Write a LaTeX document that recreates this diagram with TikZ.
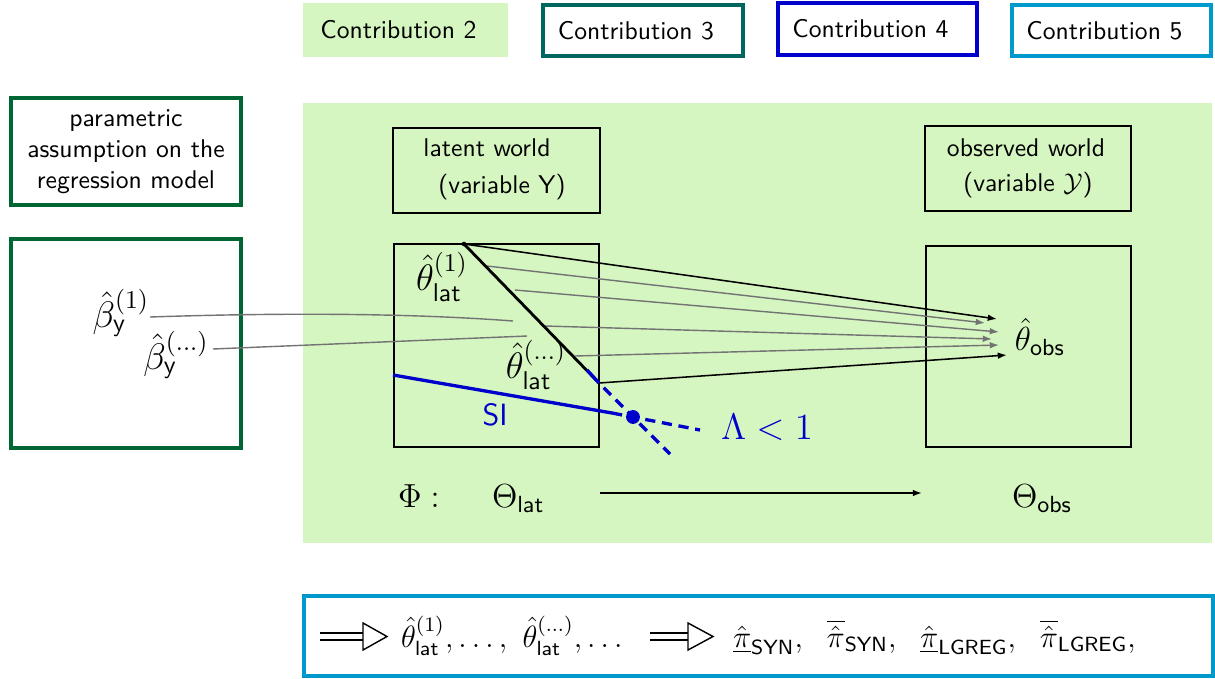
\RequirePackage{fix-cm}
\documentclass[tikz,border=0pt]{standalone}
\usepackage{amsmath,amssymb}
\usetikzlibrary{arrows.meta}
\definecolor{bggreen}{RGB}{214,246,193}
\definecolor{tealc}{RGB}{0,102,96}
\definecolor{bluec}{RGB}{0,0,204}
\definecolor{cyanc}{RGB}{0,153,204}
\definecolor{dgreen}{RGB}{0,102,51}
\definecolor{siblue}{RGB}{0,0,204}
\definecolor{grayc}{RGB}{115,115,115}
\tikzset{
  cbox/.style={draw, line width=1.5pt, fill=white, inner sep=0pt, outer sep=0pt, minimum width=77.6pt, minimum height=19.9pt},
  frame/.style={draw, line width=0.6pt, inner sep=0pt, outer sep=0pt},
  gbox/.style={draw=dgreen, line width=1.6pt, fill=white, inner sep=0pt, outer sep=0pt, minimum width=89.7pt, align=center},
  txt/.style={inner sep=0pt, outer sep=0pt},
  tip/.style={-{Latex[length=3.6pt,width=2.6pt]}},
  garr/.style={draw=grayc, line width=0.55pt, tip},
  barr/.style={draw=black, line width=0.6pt, tip},
  gline/.style={draw=grayc, line width=0.55pt},
  siline/.style={draw=siblue, line width=1.3pt},
  sidash/.style={siline, dash pattern=on 4pt off 2.6pt},
  implline/.style={line width=0.55pt},
  mid/.style={font=\sffamily\fontsize{13}{16}\selectfont},
  botf/.style={font=\sffamily\large},
}
\begin{document}
\begin{tikzpicture}[x=0.39pt,y=-0.39pt,font=\sffamily]
\useasboundingbox (0,0) rectangle (1215,679);

% contribution boxes
\node[inner sep=0pt, outer sep=0pt, fill=bggreen, minimum width=79.95pt, minimum height=21.06pt] (c2) at (405.5,30) {Contribution 2\kern5.5pt};
\node[cbox, draw=tealc, minimum width=78pt] (c3) at (643,30.5) {Contribution 3\kern5.5pt};
\node[cbox, draw=bluec, minimum height=20.3pt] (c4) at (877.5,29) {Contribution 4\kern5.5pt};
\node[cbox, draw=cyanc] (c5) at (1111.5,30.5) {Contribution 5\kern5.5pt};

% left boxes
\node[gbox, minimum height=41.7pt] (par) at (126,151.5) {parametric\\assumption on the\\regression model};
\node[gbox, minimum height=81.5pt] (betabox) at (126,343.5) {};

% green background
\node[inner sep=0pt, outer sep=0pt, fill=bggreen, minimum width=354.5pt, minimum height=171.6pt] (bg) at (757.5,323) {};

% boxes inside
\node[frame, minimum width=80.7pt, minimum height=33.15pt] (latTop) at (496.5,170.5) {};
\node[frame, minimum width=80.3pt, minimum height=33.15pt] (obsTop) at (1028,168.5) {};
\node[frame, minimum width=80pt, minimum height=79.2pt] (latBox) at (496.5,345.5) {};
\node[frame, minimum width=80pt, minimum height=78.4pt] (obsBox) at (1028.5,346.5) {};

\node[txt] (lw) at (487,148) {latent world};
\node[txt] (vy) at (502,187) {(variable Y)};
\node[txt] (ow) at (1026,148) {observed world};
\node[txt] (vcy) at (1028,185) {(variable $\mathcal{Y}$)};

% labels
\node[txt,font=\sffamily\Large] (th1) at (442,277) {$\hat\theta^{(1)}_{\mathsf{lat}}$};
\node[txt,font=\sffamily\Large] (thd) at (536,365) {$\hat\theta^{(\ldots)}_{\mathsf{lat}}$};
\node[txt,mid] (thobs) at (1040,337) {$\hat\theta_{\mathsf{obs}}$};
\node[txt,font=\sffamily\Large] (b1) at (121,313) {$\hat\beta^{(1)}_{\mathsf{y}}$};
\node[txt,font=\sffamily\Large] (bd) at (176,355) {$\hat\beta^{(\ldots)}_{\mathsf{y}}$};
\node[txt,text=siblue,font=\sffamily\large] (si) at (495,415) {SI};
\node[txt,text=siblue,font=\Large] (lam) at (767,427) {$\Lambda<1$};

\node[txt,mid,anchor=base west] (phi) at (398,507) {$\Phi$\hspace{3.5pt}$:$};
\node[txt,mid,anchor=base west] (thlat) at (492,507) {$\Theta_{\mathsf{lat}}$};
\node[txt,mid,anchor=base west] (thob) at (1012,507) {$\Theta_{\mathsf{obs}}$};

% coordinates
\coordinate (p0) at (464,244);
\coordinate (p1) at (599,383);
\coordinate (t0) at (997,319);
\coordinate (t5) at (1007,355);
\coordinate (g1s) at (487,266); \coordinate (g1e) at (985,323);
\coordinate (g2s) at (515,290); \coordinate (g2e) at (999,332);
\coordinate (g3s) at (545,326); \coordinate (g3e) at (992,339);
\coordinate (g4s) at (575,356); \coordinate (g4e) at (999,345);
\coordinate (b1s) at (150,317); \coordinate (b1e) at (513,321);
\coordinate (b2s) at (213,349); \coordinate (b2e) at (527,336);
\coordinate (d0) at (587,370); \coordinate (d1) at (670,454);
\coordinate (s0) at (393,375); \coordinate (s1) at (612,413); \coordinate (s2) at (700,430);
\coordinate (x0) at (633,417);
\coordinate (a0) at (600,493); \coordinate (a1) at (922,493);

% gray lines from beta
\draw[gline] (b1s) .. controls (300,312) and (420,314) .. (b1e);
\draw[gline] (b2s) -- (b2e);

% arrows to theta_obs
\draw[garr] (g1s) -- (g1e);
\draw[garr] (g2s) -- (g2e);
\draw[garr] (g3s) -- (g3e);
\draw[garr] (g4s) -- (g4e);
\draw[barr] (p0) -- (t0);
\draw[barr] (p1) -- (t5);

% diagonal
\draw[line width=1.1pt] (p0) -- (p1);
\fill (p0) circle (0.9pt);
\draw[siline] (d0) -- (p1);
\draw[sidash, dash phase=4pt] (p1) -- (d1);
\draw[siline] (s0) -- (s1);
\draw[sidash] (s1) -- (s2);
\fill[siblue] (x0) circle (2.7pt);

% Phi arrow
\draw[barr] (a0) -- (a1);

% bottom box
\node[draw=cyanc, line width=1.6pt, inner sep=0pt, outer sep=0pt, minimum width=354.5pt, minimum height=31.2pt] (bottom) at (758.5,636) {};
\draw[implline] (320,633) -- (363,633) (320,640) -- (363,640);
\draw[implline] (363,623) -- (387,636.5) -- (363,650) -- cycle;
\draw[implline] (650,633) -- (688,633) (650,640) -- (688,640);
\draw[implline] (688,623) -- (713,636.5) -- (688,650) -- cycle;
\node[txt,botf,anchor=base west] (f1) at (401,647) {$\hat\theta^{(1)}_{\mathsf{lat}},\ldots,\ \hat\theta^{(\ldots)}_{\mathsf{lat}},\ldots$};
\node[txt,botf,anchor=base west] (f2) at (733,647) {$\underline{\hat\pi}_{\mathsf{SYN}},\ \;\overline{\hat\pi}_{\mathsf{SYN}},\ \;\underline{\hat\pi}_{\mathsf{LGREG}},\ \;\overline{\hat\pi}_{\mathsf{LGREG}},$};
\end{tikzpicture}
\end{document}
